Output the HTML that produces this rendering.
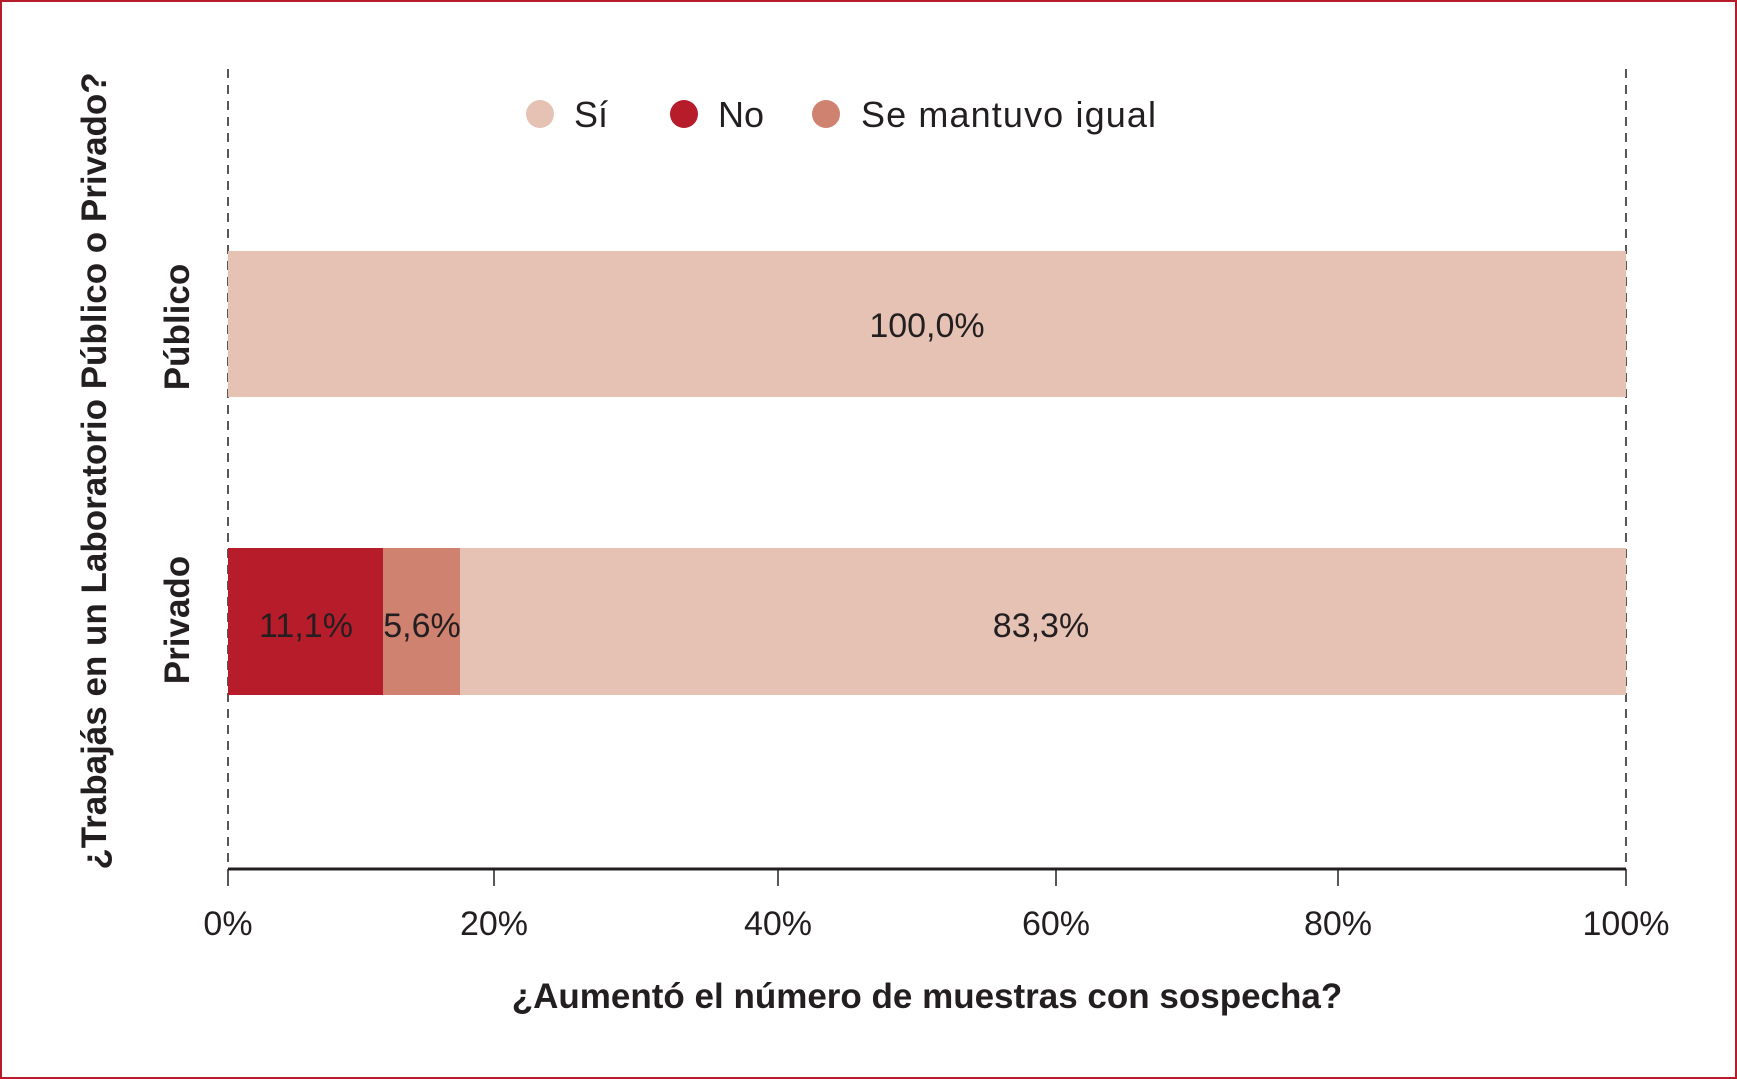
<!DOCTYPE html>
<html><head><meta charset="utf-8"><style>
html,body{margin:0;padding:0;background:#fff}
svg{display:block}
text{font-family:"Liberation Sans Narrow","Liberation Sans",sans-serif;fill:#231f20}
</style></head><body>
<svg width="1737" height="1079" viewBox="0 0 1737 1079">
<rect x="1" y="1" width="1735" height="1077" fill="#fff" stroke="#b71c2b" stroke-width="2"/>
<g stroke="#231f20" stroke-width="1.5" stroke-dasharray="9,7">
<line x1="228" y1="69" x2="228" y2="869"/>
<line x1="1626" y1="69" x2="1626" y2="869"/>
</g>
<rect x="228" y="251" width="1398" height="146" fill="#e5c2b4"/>
<rect x="228" y="548" width="155" height="147" fill="#b71c2b"/>
<rect x="383" y="548" width="77" height="147" fill="#d08270"/>
<rect x="460" y="548" width="1166" height="147" fill="#e5c2b4"/>
<line x1="228" y1="869" x2="1626" y2="869" stroke="#231f20" stroke-width="3"/>
<g stroke="#231f20" stroke-width="1.5">
<line x1="228" y1="869" x2="228" y2="886"/><line x1="494" y1="869" x2="494" y2="886"/>
<line x1="778" y1="869" x2="778" y2="886"/><line x1="1056" y1="869" x2="1056" y2="886"/>
<line x1="1338" y1="869" x2="1338" y2="886"/><line x1="1626" y1="869" x2="1626" y2="886"/>
</g>
<g font-size="34" text-anchor="middle">
<text x="228" y="935">0%</text><text x="494" y="935">20%</text><text x="778" y="935">40%</text>
<text x="1056" y="935">60%</text><text x="1338" y="935">80%</text><text x="1626" y="935">100%</text>
<text x="927" y="337">100,0%</text>
<text x="306" y="637">11,1%</text>
<text x="422" y="637">5,6%</text>
<text x="1041" y="637">83,3%</text>
</g>
<text x="927" y="1008" font-size="35" font-weight="bold" text-anchor="middle">¿Aumentó el número de muestras con sospecha?</text>
<text transform="translate(106,471) rotate(-90)" font-size="35" font-weight="bold" text-anchor="middle">¿Trabajás en un Laboratorio Público o Privado?</text>
<text transform="translate(189,327) rotate(-90)" font-size="35" font-weight="bold" text-anchor="middle">Público</text>
<text transform="translate(189,620) rotate(-90)" font-size="35" font-weight="bold" text-anchor="middle">Privado</text>
<circle cx="540" cy="114" r="14" fill="#e5c2b4"/>
<circle cx="684" cy="114" r="14" fill="#b71c2b"/>
<circle cx="826" cy="114" r="14" fill="#d08270"/>
<g font-size="36">
<text x="574" y="127">Sí</text><text x="718" y="127">No</text><text x="861" y="127" textLength="295">Se mantuvo igual</text>
</g>
</svg>
</body></html>
